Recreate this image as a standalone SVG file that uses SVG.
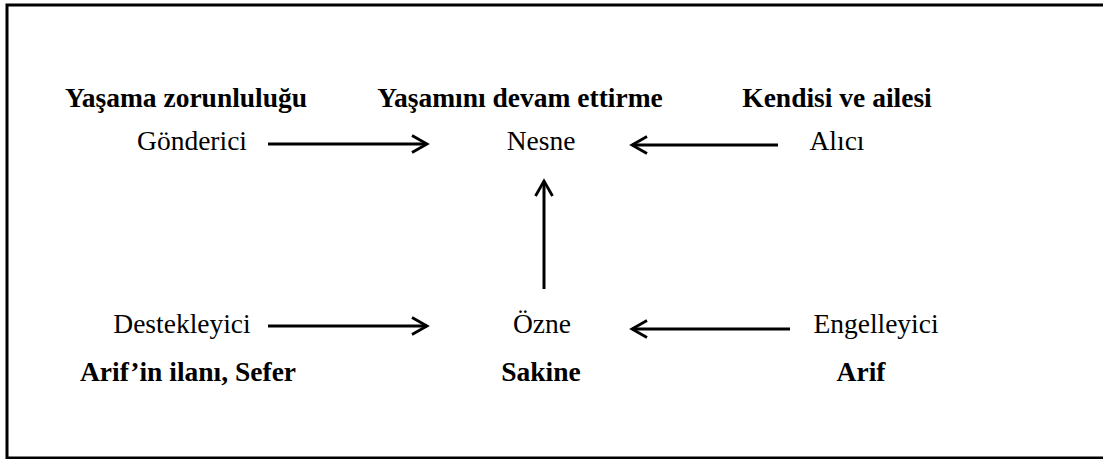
<svg xmlns="http://www.w3.org/2000/svg" width="1103" height="459" viewBox="0 0 1103 459">
<style>
.t{font-family:"Liberation Serif","Times New Roman",serif;font-size:27.5px;fill:#000;text-anchor:middle}
.b{font-weight:bold}
.c{stroke:#000;stroke-width:3;fill:none}
</style>
<defs>
<marker id="ah" viewBox="0 0 20 20" refX="17" refY="10" markerWidth="20" markerHeight="20" markerUnits="userSpaceOnUse" orient="auto">
<path d="M2,1.5 L17,10 L2,18.5" fill="none" stroke="#000" stroke-width="2.8"/>
</marker>
</defs>
<rect width="1103" height="459" fill="#fff"/>
<path d="M1103,5 H7 V458 H1103" fill="none" stroke="#000" stroke-width="3"/>
<g id="n-gonderen"><text class="t b" x="186" y="107">Yaşama zorunluluğu</text><text class="t" x="192" y="150">Gönderici</text></g>
<g id="n-nesne"><text class="t b" x="520" y="107">Yaşamını devam ettirme</text><text class="t" x="541" y="150">Nesne</text></g>
<g id="n-alici"><text class="t b" x="837" y="107">Kendisi ve ailesi</text><text class="t" x="837" y="150">Alıcı</text></g>
<g id="n-destek"><text class="t" x="182" y="333">Destekleyici</text><text class="t b" x="188" y="381">Arif’in ilanı, Sefer</text></g>
<g id="n-ozne"><text class="t" x="542" y="333">Özne</text><text class="t b" x="541" y="381">Sakine</text></g>
<g id="n-engel"><text class="t" x="876" y="333">Engelleyici</text><text class="t b" x="861" y="381">Arif</text></g>
<g id="connectors">
<line class="c" x1="268" y1="144" x2="427" y2="144" marker-end="url(#ah)"/>
<line class="c" x1="778" y1="145" x2="632" y2="145" marker-end="url(#ah)"/>
<line class="c" x1="544" y1="289" x2="544" y2="181" marker-end="url(#ah)"/>
<line class="c" x1="268" y1="326" x2="427" y2="326" marker-end="url(#ah)"/>
<line class="c" x1="790" y1="329" x2="632" y2="329" marker-end="url(#ah)"/>
</g>
</svg>
